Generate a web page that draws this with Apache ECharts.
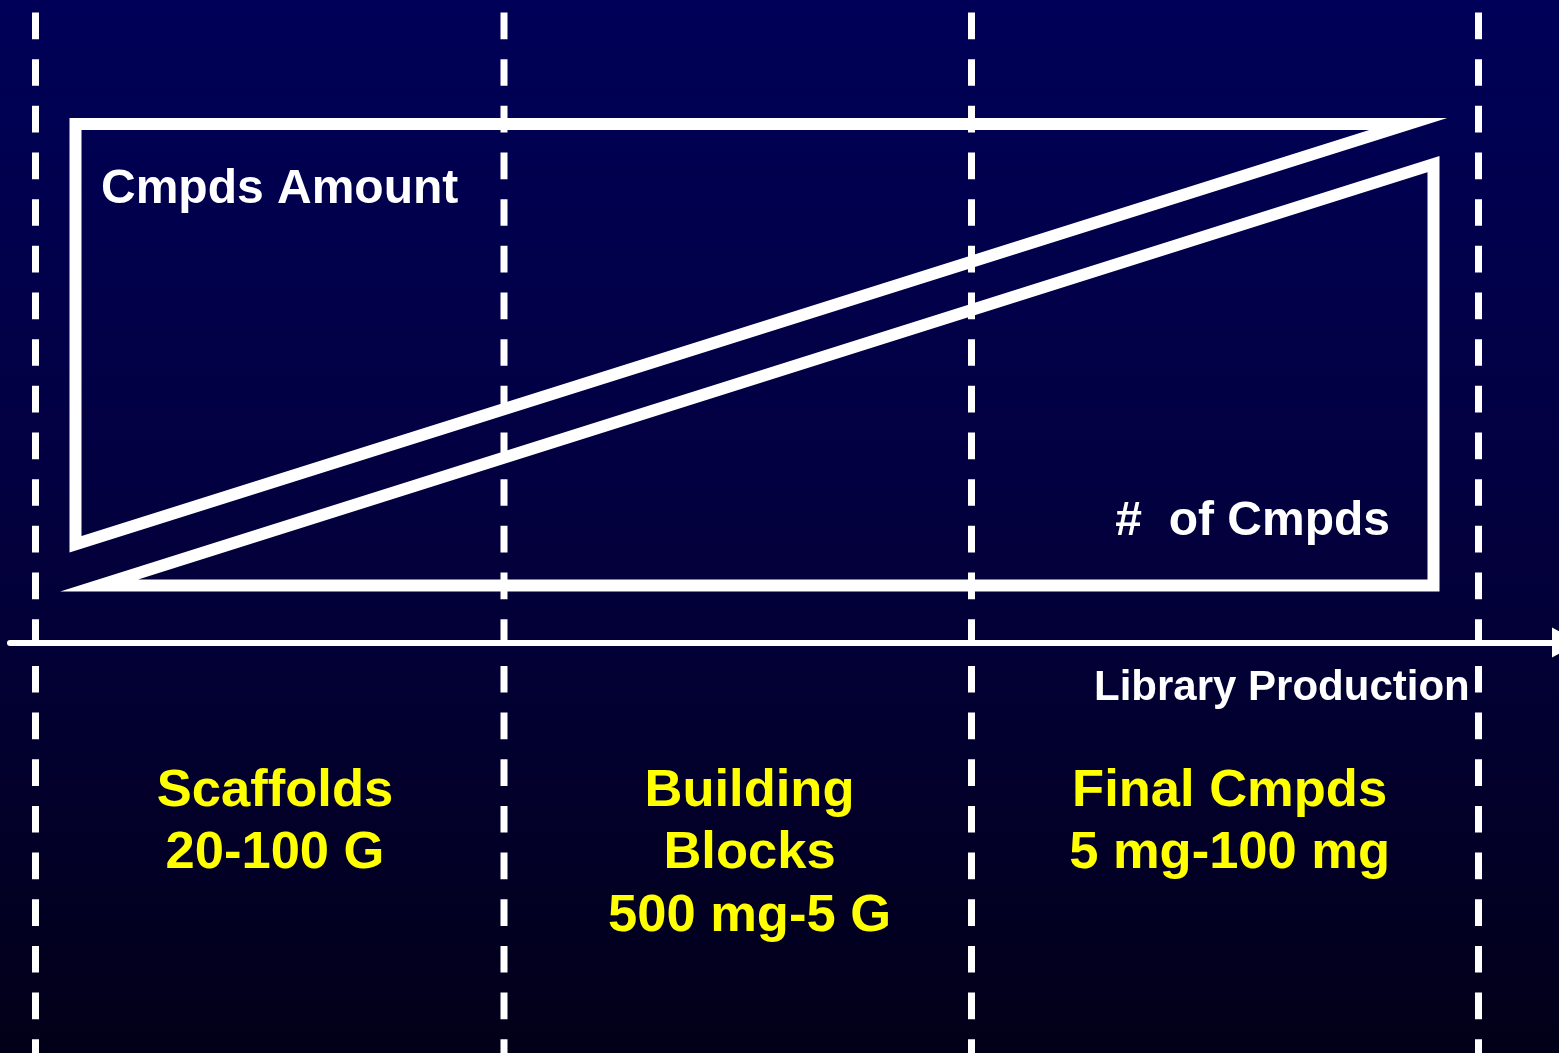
<!DOCTYPE html>
<html>
<head>
<meta charset="utf-8">
<script src="https://cdn.jsdelivr.net/npm/echarts@6/dist/echarts.min.js"></script>
<style>
  html, body { margin: 0; padding: 0; background: #02003a; }
  #chart { width: 1559px; height: 1053px; }
</style>
</head>
<body>
<div id="chart"></div>
<script>
// x: position along library production; y: height above the production axis
const stageBounds = [35.5, 504, 971.5, 1478.5];          // dividers between production stages
const stageNames = ['Scaffolds', 'Building\nBlocks', 'Final Cmpds'];
const stageAmounts = ['20-100 G', '500 mg-5 G', '5 mg-100 mg'];
const stageCenters = [275, 749.5, 1229.6];

// compound amount per item: large at scaffolds, shrinking toward final compounds
const amountOutline = [[740, 518.5], [1408.3, 518.5], [75.5, 98.2], [75.5, 518.5], [740, 518.5]];
// number of compounds: few at the start, many at the end
const countOutline = [[760, 57], [1433.5, 57], [1433.5, 478.4], [99.1, 57], [760, 57]];

const dividerTop = 630;
const dividerBottom = -410.5;

const axisTitle = 'Library Production';
const amountTitle = 'Cmpds Amount';
const countTitle = '#  of Cmpds';

const FONT = '"Liberation Sans", Arial, Helvetica, sans-serif';

const chart = echarts.init(document.getElementById('chart'), null, { renderer: 'canvas' });

const outlineStyle = { color: '#ffffff', width: 12, join: 'miter', miterLimit: 10, cap: 'butt' };

const series = [
  {
    type: 'line', name: 'amount', data: amountOutline, symbol: 'none',
    lineStyle: outlineStyle, silent: true, z: 3
  },
  {
    type: 'line', name: 'count', data: countOutline, symbol: 'none',
    lineStyle: outlineStyle, silent: true, z: 3
  }
].concat(stageBounds.map(function (x, i) {
  return {
    type: 'line', name: 'divider' + i,
    data: [[x, dividerTop], [x, dividerBottom]],
    symbol: 'none', silent: true, z: 4,
    lineStyle: { color: '#ffffff', width: 7, type: [26.67, 20], cap: 'butt' }
  };
}));

const texts = [
  {
    type: 'text', z: 10, silent: true,
    style: { text: amountTitle, x: 101, y: 190, fill: '#ffffff',
             font: 'bold 48px ' + FONT, align: 'left', verticalAlign: 'middle' }
  },
  {
    type: 'text', z: 10, silent: true,
    style: { text: countTitle, x: 1390, y: 521.6, fill: '#ffffff',
             font: 'bold 48px ' + FONT, align: 'right', verticalAlign: 'middle' }
  },
  {
    type: 'text', z: 10, silent: true,
    style: { text: axisTitle, x: 1094, y: 688.5, fill: '#ffffff',
             font: 'bold 42px ' + FONT, align: 'left', verticalAlign: 'middle' }
  }
].concat(stageNames.map(function (name, i) {
  return {
    type: 'text', z: 10, silent: true,
    style: { text: name + '\n' + stageAmounts[i], x: stageCenters[i], y: 760,
             fill: '#ffff00', font: 'bold 52.5px ' + FONT, lineHeight: 62.5,
             align: 'center', verticalAlign: 'top' }
  };
}));

const option = {
  animation: false,
  backgroundColor: '#02003a',
  graphic: [
    {
      type: 'rect', z: -10, silent: true,
      shape: { x: 0, y: 0, width: 1559, height: 1053 },
      style: {
        fill: new echarts.graphic.LinearGradient(0, 0, 0, 1, [
          { offset: 0, color: '#000058' },
          { offset: 0.5, color: '#03003e' },
          { offset: 1, color: '#020018' }
        ])
      }
    }
  ].concat(texts),
  grid: { left: 10, top: 0, right: 0, bottom: 0, containLabel: false },
  xAxis: {
    type: 'value', min: 10, max: 1559,
    axisLine: {
      show: true, onZero: true,
      symbol: ['none', 'triangle'], symbolSize: [30, 28], symbolOffset: [0, 7],
      lineStyle: { color: '#ffffff', width: 6 }
    },
    axisTick: { show: false }, axisLabel: { show: false }, splitLine: { show: false }
  },
  yAxis: {
    type: 'value', min: -410.5, max: 642.5, show: false,
    axisLine: { show: false }, splitLine: { show: false }
  },
  series: series
};

chart.setOption(option);
</script>
</body>
</html>
